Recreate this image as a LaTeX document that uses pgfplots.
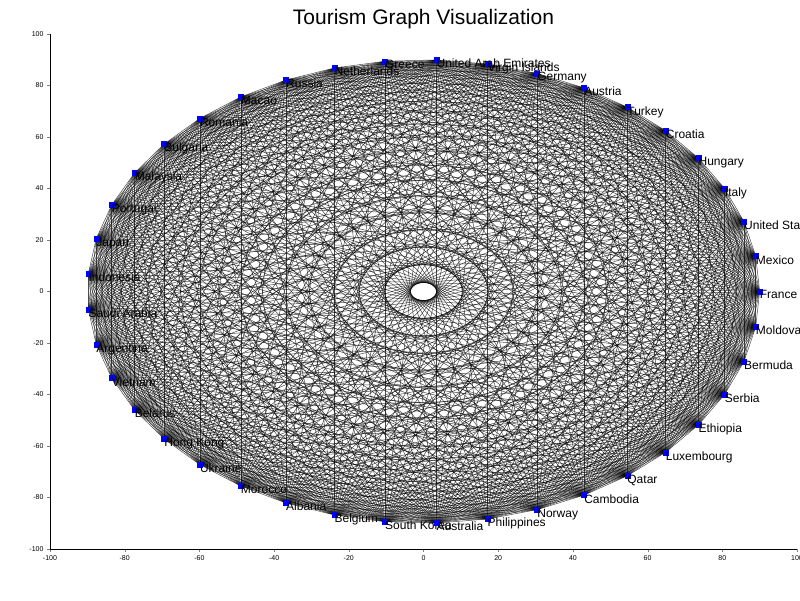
\documentclass[border=0pt]{standalone}
\usepackage{pgfplots}
\usepackage{pgfplotstable}
\pgfplotsset{compat=1.18}
\usepackage{fontspec}
\setmainfont{Liberation Sans}
\pgfplotstableread[col sep=comma]{
x,y,name
90.00,0.00,France
88.95,13.74,Mexico
85.81,27.15,United States
80.65,39.93,Italy
73.61,51.79,Hungary
64.83,62.43,Croatia
54.54,71.59,Turkey
42.99,79.07,Austria
30.43,84.70,Germany
17.14,88.35,Virgin Islands
3.45,89.93,United Arab Emirates
-10.32,89.41,Greece
-23.85,86.78,Netherlands
-36.81,82.13,Russia
-48.92,75.55,Macao
-59.87,67.20,Romania
-69.43,57.27,Bulgaria
-77.36,46.00,Malaysia
-83.47,33.64,Portugal
-87.63,20.51,Japan
-89.74,6.89,Indonesia
-89.74,-6.89,Saudi Arabia
-87.63,-20.51,Argentina
-83.47,-33.64,Vietnam
-77.36,-46.00,Belarus
-69.43,-57.27,Hong Kong
-59.87,-67.20,Ukraine
-48.92,-75.55,Morocco
-36.81,-82.13,Albania
-23.85,-86.78,Belgium
-10.32,-89.41,South Korea
3.45,-89.93,Australia
17.14,-88.35,Philippines
30.43,-84.70,Norway
42.99,-79.07,Cambodia
54.54,-71.59,Qatar
64.83,-62.43,Luxembourg
73.61,-51.79,Ethiopia
80.65,-39.93,Serbia
85.81,-27.15,Bermuda
88.95,-13.74,Moldova
}\nodes
\begin{document}
\begin{tikzpicture}[x=1pt,y=1pt]
\useasboundingbox (-50,-51) rectangle (750,549);
\begin{axis}[
  at={(0,0)}, anchor=south west,
  scale only axis, width=747pt, height=515pt,
  xmin=-100, xmax=100, ymin=-100, ymax=100,
  axis x line*=bottom, axis y line*=left,
  xtick={-100,-80,...,100}, ytick={-100,-80,...,100},
  tick label style={font=\fontsize{7}{8}\selectfont},
  /pgf/number format/assume math mode=true,
  tick align=outside, major tick length=3pt,
  title={Tourism Graph Visualization},
  title style={font=\fontsize{21}{24}\selectfont, yshift=-4pt},
  clip=false,
]
\pgfplotsforeachungrouped \i in {0,...,39}{%
  \pgfmathtruncatemacro\jstart{\i+1}%
  \pgfplotsforeachungrouped \j in {\jstart,...,40}{%
    \pgfplotstablegetelem{\i}{x}\of\nodes \let\xa\pgfplotsretval
    \pgfplotstablegetelem{\i}{y}\of\nodes \let\ya\pgfplotsretval
    \pgfplotstablegetelem{\j}{x}\of\nodes \let\xb\pgfplotsretval
    \pgfplotstablegetelem{\j}{y}\of\nodes \let\yb\pgfplotsretval
    \edef\tmp{\noexpand\addplot[black, line width=0.5pt, opacity=0.7, forget plot] coordinates {(\xa,\ya) (\xb,\yb)};}\tmp
  }%
}
\addplot[only marks, mark=square*, mark size=2.5pt, color=blue,
  nodes near coords, point meta=explicit symbolic,
  every node near coord/.style={anchor=north west, black, inner sep=0pt, xshift=0pt, yshift=1pt, font=\fontsize{12}{14}\selectfont}]
  table[x=x, y=y, meta=name, col sep=comma] {\nodes};
\end{axis}
\end{tikzpicture}
\end{document}
